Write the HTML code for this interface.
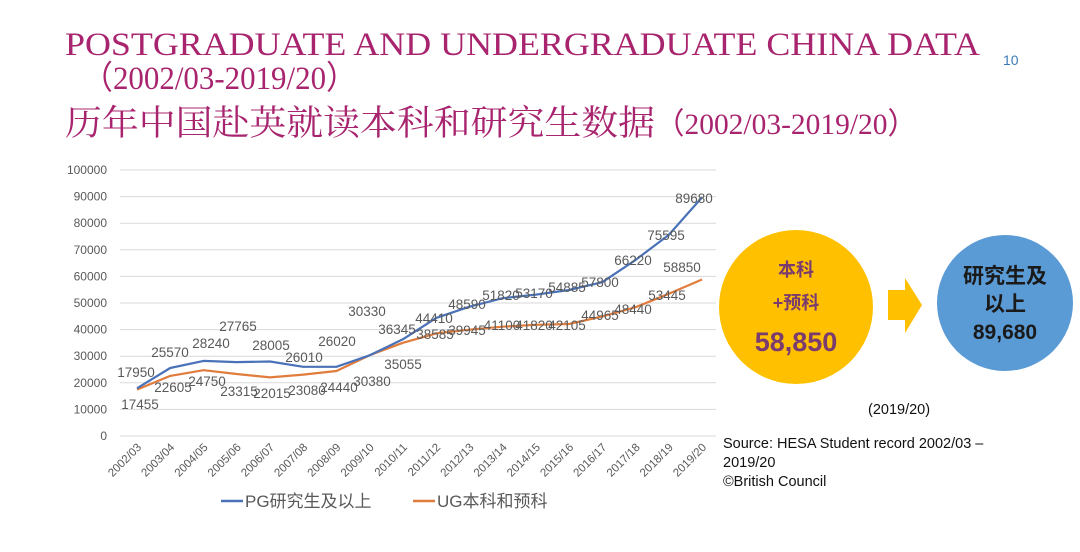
<!DOCTYPE html>
<html><head><meta charset="utf-8"><style>
html,body{margin:0;padding:0;background:#fff;}
svg{display:block;}
</style></head><body>
<svg width="1080" height="552" viewBox="0 0 1080 552" xmlns="http://www.w3.org/2000/svg">
<rect width="1080" height="552" fill="#fff"/>
<g fill="#a8246e" font-family="Liberation Serif, serif">
<text x="65" y="55" font-size="33" textLength="915" lengthAdjust="spacingAndGlyphs">POSTGRADUATE AND UNDERGRADUATE CHINA DATA</text>
<text x="82" y="89" font-size="33" textLength="275" lengthAdjust="spacingAndGlyphs">（2002/03-2019/20）</text>
<text x="65" y="135" font-size="35" font-family="Noto Serif CJK SC, serif" textLength="590" lengthAdjust="spacingAndGlyphs">历年中国赴英就读本科和研究生数据</text>
<text x="655" y="134" font-size="30" textLength="262" lengthAdjust="spacingAndGlyphs">（2002/03-2019/20）</text>
</g>
<text x="1003" y="65" font-size="14" fill="#3a7ab8" font-family="Liberation Sans, sans-serif">10</text>

<g stroke="#d9d9d9" stroke-width="1">
<line x1="120" x2="716" y1="170" y2="170"/><line x1="120" x2="716" y1="196.6" y2="196.6"/>
<line x1="120" x2="716" y1="223.2" y2="223.2"/><line x1="120" x2="716" y1="249.8" y2="249.8"/>
<line x1="120" x2="716" y1="276.4" y2="276.4"/><line x1="120" x2="716" y1="303" y2="303"/>
<line x1="120" x2="716" y1="329.6" y2="329.6"/><line x1="120" x2="716" y1="356.2" y2="356.2"/>
<line x1="120" x2="716" y1="382.8" y2="382.8"/><line x1="120" x2="716" y1="409.4" y2="409.4"/>
<line x1="120" x2="716" y1="436" y2="436"/>
</g>
<g font-family="Liberation Sans, sans-serif" font-size="12" fill="#595959" text-anchor="end">
<text x="107" y="174">100000</text><text x="107" y="200.6">90000</text><text x="107" y="227.2">80000</text>
<text x="107" y="253.8">70000</text><text x="107" y="280.4">60000</text><text x="107" y="307">50000</text>
<text x="107" y="333.6">40000</text><text x="107" y="360.2">30000</text><text x="107" y="386.8">20000</text>
<text x="107" y="413.4">10000</text><text x="107" y="440">0</text>
</g>
<g font-family="Liberation Sans, sans-serif" font-size="11.5" fill="#595959" text-anchor="end">
<text transform="translate(142,448) rotate(-45)">2002/03</text>
<text transform="translate(175.2,448) rotate(-45)">2003/04</text>
<text transform="translate(208.5,448) rotate(-45)">2004/05</text>
<text transform="translate(241.7,448) rotate(-45)">2005/06</text>
<text transform="translate(275,448) rotate(-45)">2006/07</text>
<text transform="translate(308.2,448) rotate(-45)">2007/08</text>
<text transform="translate(341.4,448) rotate(-45)">2008/09</text>
<text transform="translate(374.7,448) rotate(-45)">2009/10</text>
<text transform="translate(407.9,448) rotate(-45)">2010/11</text>
<text transform="translate(441.2,448) rotate(-45)">2011/12</text>
<text transform="translate(474.4,448) rotate(-45)">2012/13</text>
<text transform="translate(507.6,448) rotate(-45)">2013/14</text>
<text transform="translate(540.9,448) rotate(-45)">2014/15</text>
<text transform="translate(574.1,448) rotate(-45)">2015/16</text>
<text transform="translate(607.3,448) rotate(-45)">2016/17</text>
<text transform="translate(640.6,448) rotate(-45)">2017/18</text>
<text transform="translate(673.8,448) rotate(-45)">2018/19</text>
<text transform="translate(707,448) rotate(-45)">2019/20</text>
</g>
<polyline fill="none" stroke="#e07c3c" stroke-width="2.2" stroke-linejoin="round" points="137,389.6 170.2,375.9 203.5,370.2 236.7,374 270,377.4 303.2,374.6 336.4,371 369.7,355.2 402.9,342.8 436.2,333.4 469.4,329.7 502.6,326.7 535.9,324.8 569.1,324 602.3,316.4 635.6,307.2 668.8,293.8 702,279.5"/>
<polyline fill="none" stroke="#4a72b8" stroke-width="2.2" stroke-linejoin="round" points="137,388.3 170.2,368 203.5,360.9 236.7,362.1 270,361.5 303.2,366.8 336.4,366.8 369.7,355.3 402.9,339.3 436.2,317.9 469.4,306.7 502.6,298.2 535.9,294.6 569.1,290 602.3,282.2 635.6,259.9 668.8,234.9 702,197.4"/>
<g font-family="Liberation Sans, sans-serif" font-size="13.5" fill="#595959" text-anchor="middle">
<text x="136" y="377">17950</text><text x="170" y="357">25570</text><text x="211" y="348">28240</text>
<text x="238" y="331">27765</text><text x="271" y="350">28005</text><text x="304" y="362">26010</text>
<text x="337" y="346">26020</text><text x="367" y="316">30330</text><text x="397" y="334">36345</text>
<text x="434" y="323">44410</text><text x="467" y="309">48590</text><text x="501" y="300">51820</text>
<text x="534" y="298">53170</text><text x="567" y="292">54885</text><text x="600" y="287">57800</text>
<text x="633" y="265">66220</text><text x="666" y="240">75595</text><text x="694" y="203">89680</text>
<text x="140" y="409">17455</text><text x="173" y="392">22605</text><text x="207" y="386">24750</text>
<text x="239" y="396">23315</text><text x="272" y="398">22015</text><text x="307" y="395">23080</text>
<text x="339" y="392">24440</text><text x="372" y="386">30380</text><text x="403" y="369">35055</text>
<text x="435" y="339">38585</text><text x="467" y="335">39945</text><text x="502" y="330">41100</text>
<text x="534" y="330">41820</text><text x="567" y="330">42105</text><text x="600" y="320">44965</text>
<text x="633" y="314">48440</text><text x="667" y="300">53445</text><text x="682" y="272">58850</text>
</g>
<line x1="221" x2="243" y1="501" y2="501" stroke="#4a72b8" stroke-width="2.5"/>
<line x1="413" x2="435" y1="501" y2="501" stroke="#e07c3c" stroke-width="2.5"/>
<g font-family="Liberation Sans, Noto Sans CJK SC, sans-serif" font-size="17" fill="#595959">
<text x="245" y="507">PG研究生及以上</text>
<text x="437" y="507">UG本科和预科</text>
</g>
<circle cx="796" cy="307" r="77" fill="#ffc000"/>
<circle cx="1005" cy="303" r="68" fill="#5b9bd5"/>
<polygon points="888,290 905,290 905,278 922,305 905,333 905,320 888,320" fill="#ffc000"/>
<g font-family="Liberation Sans, Noto Sans CJK SC, sans-serif" text-anchor="middle">
<text x="796" y="276" font-size="18" font-weight="bold" fill="#7a3b6e">本科</text>
<text x="796" y="309" font-size="18" font-weight="bold" fill="#7a3b6e">+预科</text>
<text x="796" y="351" font-size="27" font-weight="bold" fill="#7a3b6e">58,850</text>
<text x="1005" y="283" font-size="21" font-weight="bold" fill="#1a1a1a">研究生及</text>
<text x="1005" y="311" font-size="21" font-weight="bold" fill="#1a1a1a">以上</text>
<text x="1005" y="339" font-size="21" font-weight="bold" fill="#1a1a1a">89,680</text>
</g>
<g font-family="Liberation Sans, sans-serif" fill="#111" font-size="14.5">
<text x="868" y="414">(2019/20)</text>
<text x="723" y="448">Source: HESA Student record 2002/03 –</text>
<text x="723" y="467">2019/20</text>
<text x="723" y="486">©British Council</text>
</g>
</svg>
</body></html>
